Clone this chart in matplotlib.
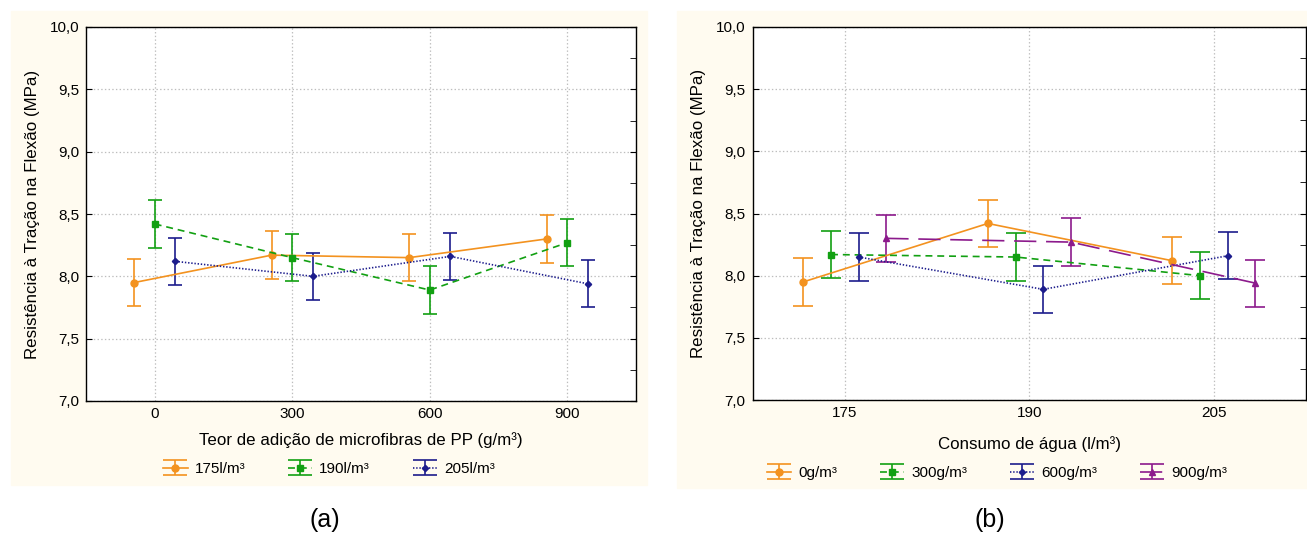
import numpy as np
import matplotlib.pyplot as plt
from matplotlib.patches import Rectangle
from matplotlib.ticker import FuncFormatter, MultipleLocator

plt.rcParams['font.family'] = ['Liberation Sans', 'DejaVu Sans']
plt.rcParams['lines.scale_dashes'] = False

# categorias
fibras = ['0', '300', '600', '900']
agua = ['175', '190', '205']

# resistência média (MPa) por consumo de água, ao longo do teor de fibras
r175 = [7.95, 8.17, 8.15, 8.30]
r190 = [8.42, 8.15, 7.89, 8.27]
r205 = [8.12, 8.00, 8.16, 7.94]
# meia amplitude das barras de erro
e175 = [0.19, 0.19, 0.19, 0.19]
e190 = [0.19, 0.19, 0.19, 0.19]
e205 = [0.19, 0.19, 0.19, 0.19]

labels_a = ['175l/m³', '190l/m³', '205l/m³']
labels_b = ['0g/m³', '300g/m³', '600g/m³', '900g/m³']

styles = [
    dict(color='#F3921F', ls='-', marker='o', ms=5),
    dict(color='#12A012', ls=(0, (5, 3.5)), marker='s', ms=5),
    dict(color='#1C1C8C', ls=(0, (1, 1.3)), marker='D', ms=3.2),
    dict(color='#8C1A8C', ls=(0, (16, 7)), marker='^', ms=5),
]

W, H = 1307, 538
fig = plt.figure(figsize=(W / 100, H / 100), dpi=100)

# fundo creme dos dois painéis
fig.patches.append(Rectangle((10.5 / W, 1 - 485 / H), 636.5 / W, 474 / H,
                             transform=fig.transFigure, color='#FFFBF0', zorder=-10))
fig.patches.append(Rectangle((676.5 / W, 1 - 488 / H), 630.5 / W, 477 / H,
                             transform=fig.transFigure, color='#FFFBF0', zorder=-10))

comma = FuncFormatter(lambda v, p: f'{v:.1f}'.replace('.', ','))


def setup(ax, ticks, xlabel, xlab_y, ylab_x):
    ax.set_ylim(7.0, 10.0)
    ax.set_xlim(-0.5, len(ticks) - 0.5)
    ax.set_xticks(range(len(ticks)))
    ax.set_xticklabels(ticks)
    ax.yaxis.set_major_locator(MultipleLocator(0.5))
    ax.yaxis.set_minor_locator(MultipleLocator(0.25))
    ax.yaxis.set_major_formatter(comma)
    ax.grid(True, color='#BDBDBD', ls=':', lw=0.9)
    ax.set_axisbelow(True)
    ax.tick_params(axis='y', which='major', direction='in', length=4, left=True, right=True,
                   labelsize=11, pad=5)
    ax.tick_params(axis='y', which='minor', direction='in', length=4, left=False, right=True)
    ax.tick_params(axis='x', length=0, labelsize=11, pad=4)
    for s in ax.spines.values():
        s.set_linewidth(1.0)
    ax.set_xlabel(xlabel, fontsize=12.2, va='center')
    ax.set_ylabel('Resistência à Tração na Flexão (MPa)', fontsize=12.2, va='center')
    ax.xaxis.set_label_coords(0.5, xlab_y)
    ax.yaxis.set_label_coords(ylab_x, 0.5)


def legend_proxy(ax, st, label):
    # handle só para a legenda, com capas da largura do símbolo
    return ax.errorbar([np.nan], [np.nan], yerr=[0], capsize=8.6, elinewidth=1.2,
                       capthick=1.2, lw=1.2, label=label, **st)


leg_kw = dict(loc='center', frameon=False, fontsize=11, handlelength=1.6,
              handletextpad=0.45, columnspacing=2.8)

# painel (a)
ax1 = fig.add_axes([86 / W, 1 - 401 / H, 550 / W, 374 / H])
ya = [r175, r190, r205]
ea = [e175, e190, e205]
offs_a = [-0.15, 0.0, 0.15]
ha = []
for i in range(3):
    x = np.arange(len(fibras)) + offs_a[i]
    ax1.errorbar(x, ya[i], yerr=ea[i], capsize=5.3, elinewidth=1.2, capthick=1.2,
                 lw=1.2, **styles[i])
    ha.append(legend_proxy(ax1, styles[i], labels_a[i]))
setup(ax1, fibras, 'Teor de adição de microfibras de PP (g/m³)', -39 / 374, -53 / 550)
fig.legend(handles=ha, bbox_to_anchor=(329 / W, 1 - 469 / H), ncol=3, **leg_kw)

# painel (b): mesmos dados, agrupados por teor de fibras
ax2 = fig.add_axes([752.6 / W, 1 - 400 / H, 553.5 / W, 373 / H])
yb = np.array(ya).T
eb = np.array(ea).T
offs_b = [-0.225, -0.075, 0.075, 0.225]
hb = []
for i in range(4):
    x = np.arange(len(agua)) + offs_b[i]
    ax2.errorbar(x, yb[i], yerr=eb[i], capsize=7, elinewidth=1.2, capthick=1.2,
                 lw=1.2, **styles[i])
    hb.append(legend_proxy(ax2, styles[i], labels_b[i]))
setup(ax2, agua, 'Consumo de água (l/m³)', -44 / 373, -53.6 / 553.5)
fig.legend(handles=hb, bbox_to_anchor=(997 / W, 1 - 473 / H), ncol=4, **leg_kw)

fig.text(325 / W, 1 - 520 / H, '(a)', ha='center', va='center', fontsize=18)
fig.text(990 / W, 1 - 520 / H, '(b)', ha='center', va='center', fontsize=18)

fig.savefig('out.png', dpi=100)
